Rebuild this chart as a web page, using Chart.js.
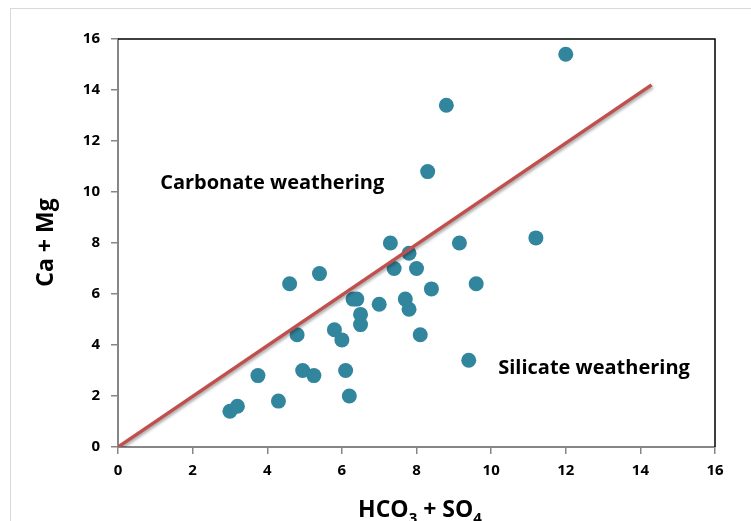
<!DOCTYPE html>
<html lang="en">
<head>
    <meta charset="UTF-8">
    <title>Ca + Mg vs HCO3 + SO4</title>
    <script src="https://cdn.jsdelivr.net/npm/chart.js@4.4.1/dist/chart.umd.min.js"></script>
    <style>
        html, body { margin: 0; padding: 0; background: #fff; }
        #wrap { width: 751px; height: 521px; }
    </style>
</head>
<body>
    <div id="wrap"><canvas id="chart" width="751" height="521"></canvas></div>
    <script>
        // HCO3 + SO4 (x) and Ca + Mg (y)
        var hco3_so4 = [3.0, 3.2, 3.75, 4.3, 4.6, 4.8, 4.95, 5.25, 5.4, 5.8, 6.0, 6.1, 6.2, 6.3, 6.4, 6.5, 6.5,
                        7.0, 7.3, 7.4, 7.7, 7.8, 7.8, 8.0, 8.1, 8.3, 8.4, 8.8, 9.15, 9.4, 9.6, 11.2, 12.0]
        var ca_mg    = [1.4, 1.6, 2.8, 1.8, 6.4, 4.4, 3.0, 2.8, 6.8, 4.6, 4.2, 3.0, 2.0, 5.8, 5.8, 5.2, 4.8,
                        5.6, 8.0, 7.0, 5.8, 7.6, 5.4, 7.0, 4.4, 10.8, 6.2, 13.4, 8.0, 3.4, 6.4, 8.2, 15.4]

        // 1:1 line
        var line_x = [0, 14.3]
        var line_y = [0, 14.2]

        var tick_values = [0, 2, 4, 6, 8, 10, 12, 14, 16]

        var FONT = "'Open Sans', sans-serif"

        var points = hco3_so4.map(function(x, i){ return {x: x, y: ca_mg[i]} })
        var line_pts = line_x.map(function(x, i){ return {x: x, y: line_y[i]} })

        var frame = {
            id: "frame",
            beforeDraw: function(chart){
                var c = chart.ctx
                c.save()
                c.strokeStyle = "#d9d9d9"
                c.lineWidth = 1
                c.strokeRect(10.5, 8.5, 900, 700)
                c.restore()
            },
            beforeDatasetDraw: function(chart, args){
                if(args.index === 1){
                    chart.ctx.save()
                    chart.ctx.shadowColor = "rgba(0,0,0,0.35)"
                    chart.ctx.shadowBlur = 3
                    chart.ctx.shadowOffsetX = 1
                    chart.ctx.shadowOffsetY = 2
                }
            },
            afterDatasetDraw: function(chart, args){
                if(args.index === 1) chart.ctx.restore()
            },
            afterDraw: function(chart){
                var c = chart.ctx
                var a = chart.chartArea
                var sx = chart.scales.x, sy = chart.scales.y
                c.save()
                // top and right frame of the plot area
                c.strokeStyle = "#000"
                c.lineWidth = 1.5
                c.beginPath()
                c.moveTo(a.left, a.top)
                c.lineTo(a.right, a.top)
                c.lineTo(a.right, a.bottom)
                c.stroke()

                // region labels
                c.fillStyle = "#000"
                c.font = "bold 20px " + FONT
                c.textBaseline = "alphabetic"
                c.textAlign = "left"
                c.fillText("Carbonate weathering", sx.getPixelForValue(1.13), sy.getPixelForValue(10.12))
                c.fillText("Silicate weathering", sx.getPixelForValue(10.19), sy.getPixelForValue(2.86))

                // y title
                c.save()
                c.translate(53, 242.5)
                c.rotate(-Math.PI/2)
                c.textAlign = "center"
                c.font = "bold 23px " + FONT
                c.fillText("Ca + Mg", 0, 0)
                c.restore()

                // x title with subscripts
                var parts = [["HCO", 0], ["3", 1], [" + SO", 0], ["4", 1]]
                var big = "bold 23px " + FONT, small = "bold 15px " + FONT
                var total = 0
                parts.forEach(function(p){ c.font = p[1] ? small : big; total += c.measureText(p[0]).width })
                var px = 420 - total/2
                c.textAlign = "left"
                parts.forEach(function(p){
                    c.font = p[1] ? small : big
                    c.fillText(p[0], px, p[1] ? 523 : 517)
                    px += c.measureText(p[0]).width
                })
                c.restore()
            }
        }

        var axis = function(){
            return {
                type: "linear",
                min: 0,
                max: 16,
                afterBuildTicks: function(scale){
                    scale.ticks = tick_values.map(function(v){ return {value: v} })
                },
                ticks: {
                    color: "#000",
                    font: {family: FONT, size: 15, weight: "bold"},
                    padding: 11
                },
                grid: {
                    display: true,
                    drawOnChartArea: false,
                    drawTicks: true,
                    tickLength: 7,
                    color: "#868686",
                    lineWidth: 1.5
                },
                border: {display: true, color: "#868686", width: 2}
            }
        }

        var x_axis = axis()
        x_axis.ticks = Object.assign({}, x_axis.ticks, {padding: 8})
        x_axis.afterFit = function(scale){ scale.height = 74 }
        var y_axis = axis()
        y_axis.afterFit = function(scale){ scale.width = 118 }

        window.addEventListener("load", function(){
            new Chart(document.getElementById("chart"), {
                type: "scatter",
                data: {
                    datasets: [
                        {
                            label: "samples",
                            data: points,
                            backgroundColor: "#31859C",
                            borderColor: "#31859C",
                            borderWidth: 0,
                            pointRadius: 7.5,
                            pointHoverRadius: 7.5,
                            order: 1
                        },
                        {
                            label: "1:1",
                            data: line_pts,
                            showLine: true,
                            borderColor: "#C0504D",
                            borderWidth: 3.5,
                            pointRadius: 0,
                            fill: false,
                            order: 0
                        }
                    ]
                },
                options: {
                    responsive: false,
                    animation: false,
                    layout: {padding: {left: 0, top: 39, right: 36, bottom: 0}},
                    plugins: {legend: {display: false}, tooltip: {enabled: false}},
                    scales: {x: x_axis, y: y_axis}
                },
                plugins: [frame]
            })
        })
    </script>
</body>
</html>
